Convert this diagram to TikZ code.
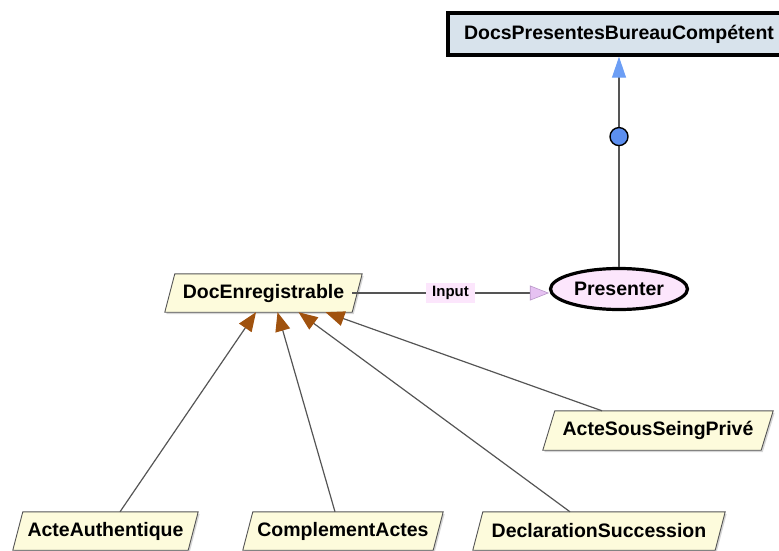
\documentclass[tikz,border=0pt]{standalone}
\usepackage{fontspec}
\setmainfont{Liberation Sans}
\usetikzlibrary{shapes.geometric,arrows.meta,shadows,backgrounds}
\definecolor{cream}{HTML}{FDFBDC}
\definecolor{framegrey}{HTML}{555555}
\definecolor{boxblue}{HTML}{D8E3EC}
\definecolor{pinkfill}{HTML}{FCE6FC}
\definecolor{lavender}{HTML}{E6C2F2}
\definecolor{lavenderdark}{HTML}{B896C8}
\definecolor{brown}{HTML}{A0520E}
\definecolor{tipblue}{HTML}{6C9EF5}
\definecolor{dotblue}{HTML}{5C8FF0}
% slanted frame behind a concept node: #1 node name, #2 half of the slant
\newcommand{\slantframe}[2]{%
  \begin{scope}[on background layer]
    \fill[black,opacity=0.16]
      ([xshift=#2+1.5pt,yshift=-2pt]#1.north west) -- ([xshift=#2+1.5pt,yshift=-2pt]#1.north east)
      -- ([xshift=-#2+1.5pt,yshift=-2pt]#1.south east) -- ([xshift=-#2+1.5pt,yshift=-2pt]#1.south west) -- cycle;
    \filldraw[fill=cream,draw=framegrey,line width=0.9pt,line join=miter]
      ([xshift=#2]#1.north west) -- ([xshift=#2]#1.north east)
      -- ([xshift=-#2]#1.south east) -- ([xshift=-#2]#1.south west) -- cycle;
  \end{scope}}
\begin{document}
\begin{tikzpicture}[x=1pt,y=-1pt,
  label font/.style={font=\bfseries\fontsize{19.5}{21}\selectfont},
  soft shadow/.style={drop shadow={shadow xshift=1.5pt,shadow yshift=-2pt,fill=black,opacity=0.18}},
  concept/.style={rectangle, label font, minimum height=38pt, inner sep=0pt},
  process/.style={ellipse, draw=black, line width=3.2pt, fill=pinkfill,
    label font, minimum width=137pt, minimum height=41pt, inner sep=0pt},
  target/.style={rectangle, draw=black, line width=3.4pt, fill=boxblue,
    label font, minimum width=342pt, minimum height=42pt, inner sep=0pt, soft shadow},
  conn/.style={draw=framegrey, line width=1.2pt},
  isa/.style={conn, -{Triangle[length=19pt,width=15pt,fill=brown,color=brown]}},
  input/.style={conn, -{Triangle[length=19pt,width=15pt,fill=lavender,color=lavenderdark,line width=0.6pt]}},
  result/.style={conn, -{Triangle[length=21pt,width=14pt,fill=tipblue,color=tipblue]}},
  tag/.style={fill=pinkfill, inner xsep=6pt, inner ysep=3pt, font=\bfseries\fontsize{15}{16}\selectfont},
  dot/.style={circle, draw=black, line width=1.4pt, fill=dotblue, minimum size=18pt, inner sep=0pt}
]
\useasboundingbox (0,0) rectangle (779,551);

% nodes
\node[target] (docs) at (619,34) {DocsPresentesBureauCompétent};
\node[process] (pres) at (619,289) {Presenter};
\node[concept, minimum width=187pt] (doc) at (263.5,293) {DocEnregistrable};
\node[concept, minimum width=218pt, minimum height=39pt] (assp) at (658,430.5) {ActeSousSeingPrivé};
\node[concept, minimum width=175pt] (aa) at (105.5,531) {ActeAuthentique};
\node[concept, minimum width=190pt] (ca) at (343,531) {ComplementActes};
\node[concept, minimum width=242pt] (ds) at (599,531) {DeclarationSuccession};

\slantframe{doc}{5pt}
\slantframe{assp}{6pt}
\slantframe{aa}{5pt}
\slantframe{ca}{5pt}
\slantframe{ds}{5pt}

% specialisation links
\coordinate (t1) at ([xshift=-7.5pt]doc.south);
\coordinate (t2) at ([xshift=14pt]doc.south);
\coordinate (t3) at ([xshift=35pt]doc.south);
\coordinate (t4) at ([xshift=62pt]doc.south);
\draw[isa] ([xshift=14.5pt]aa.north) -- (t1);
\draw[isa] ([xshift=-8pt]ca.north) -- (t2);
\draw[isa] ([xshift=-29pt]ds.north) -- (t3);
\draw[isa] ([xshift=-56pt]assp.north) -- (t4);

% input of the process
\draw[input] ([xshift=-5pt]doc.east) -- node[tag] {Input} (doc.east -| pres.west);

% output of the process
\draw[result] (pres.north) -- node[dot, pos=0.62] (out) {} (docs.south);
\end{tikzpicture}
\end{document}
